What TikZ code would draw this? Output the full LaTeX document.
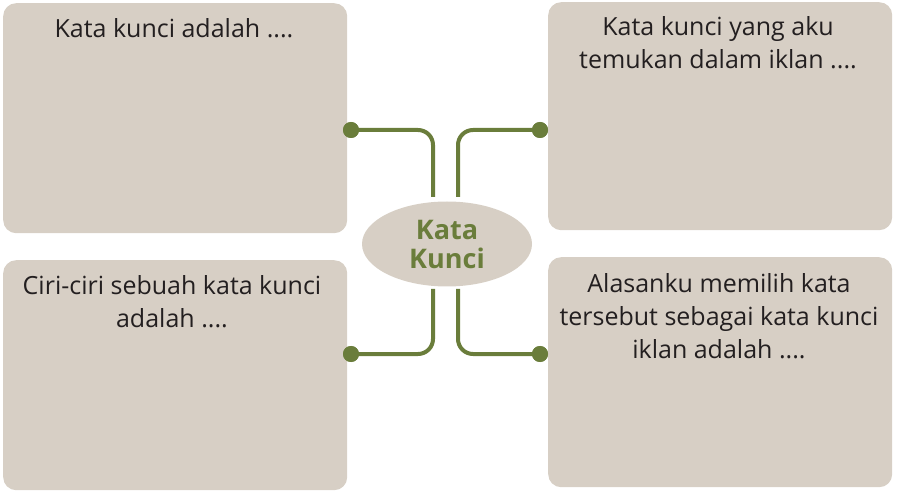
\documentclass[tikz,border=0pt]{standalone}
\usepackage{fontspec}
\setmainfont{Open Sans}
\usetikzlibrary{shapes.geometric}
\definecolor{boxfill}{HTML}{D7CFC5}
\definecolor{leaf}{HTML}{6A7D3B}
\definecolor{ink}{HTML}{231F20}
\tikzset{
  card/.style={fill=boxfill, draw=none, rounded corners=13pt, anchor=north west, inner sep=0pt},
  cardtext/.style={text=ink, font=\fontsize{25}{33}\selectfont, align=center, anchor=north, inner sep=0pt},
  conn/.style={draw=leaf, line width=4pt, rounded corners=15pt},
  dot/.style={circle, fill=leaf, minimum size=16pt, inner sep=0pt},
}
\begin{document}
\begin{tikzpicture}[x=1pt,y=-1pt]
\useasboundingbox (0,0) rectangle (897,494);
% cards
\node[card, minimum width=344pt, minimum height=230pt] (tl) at (3,3) {};
\node[card, minimum width=344pt, minimum height=230pt] (bl) at (3,260) {};
\node[card, minimum width=344pt, minimum height=228pt] (tr) at (548,2) {};
\node[card, minimum width=344pt, minimum height=230pt] (br) at (548,257) {};
% texts
\node[cardtext] (ttl) at (174,18) {Kata kunci adalah ....};
\node[cardtext] (ttr) at (718,16) {Kata kunci yang aku\\temukan dalam iklan ....};
\node[cardtext] (tbl) at (172,275) {Ciri-ciri sebuah kata kunci\\adalah ....};
\node[cardtext] (tbr) at (719,273) {Alasanku memilih kata\\tersebut sebagai kata kunci\\iklan adalah ....};
% center
\node[ellipse, fill=boxfill, minimum width=170pt, minimum height=85pt, inner sep=0pt,
      text=leaf, font=\fontsize{27}{29}\selectfont\bfseries, align=center] (kk) at (447,244) {Kata\\Kunci};
% connector endpoints
\coordinate (v1) at (433,197);
\coordinate (v2) at (458,197);
\coordinate (v3) at (433,289);
\coordinate (v4) at (458,289);
\node[dot] (d1) at (351,130) {};
\node[dot] (d2) at (540,130) {};
\node[dot] (d3) at (351,354) {};
\node[dot] (d4) at (540,354) {};
\draw[conn] (d1.center) -| (v1);
\draw[conn] (d2.center) -| (v2);
\draw[conn] (d3.center) -| (v3);
\draw[conn] (d4.center) -| (v4);
\node[dot] at (d1) {};
\node[dot] at (d2) {};
\node[dot] at (d3) {};
\node[dot] at (d4) {};
\end{tikzpicture}
\end{document}
